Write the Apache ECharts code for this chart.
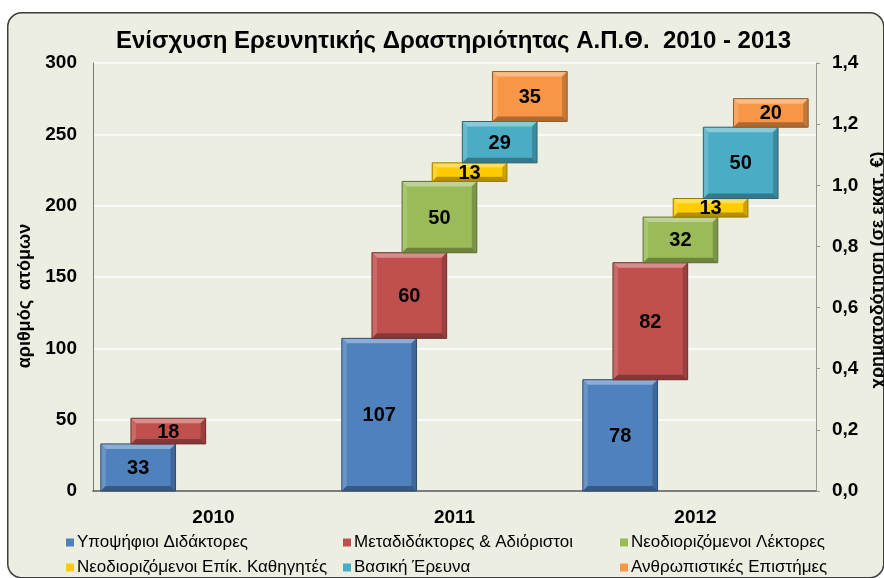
<!DOCTYPE html>
<html><head><meta charset="utf-8">
<script src="https://cdn.jsdelivr.net/npm/echarts@6/dist/echarts.min.js"></script>
<style>html,body{margin:0;padding:0;background:#fff;}#c{width:884px;height:578px;}</style>
</head><body><div id="c"></div>
<script>
const categories = ['2010', '2011', '2012'];
const seriesNames = ['Υποψήφιοι Διδάκτορες', 'Μεταδιδάκτορες & Αδιόριστοι', 'Νεοδιοριζόμενοι Λέκτορες',
  'Νεοδιοριζόμενοι Επίκ. Καθηγητές', 'Βασική Έρευνα', 'Ανθρωπιστικές Επιστήμες'];
const phdCandidates = [33, 107, 78];
const postdocs = [18, 60, 82];
const newLecturers = [null, 50, 32];
const newAsstProfs = [null, 13, 13];
const basicResearch = [null, 29, 50];
const humanities = [null, 35, 20];
const leftTicks = [0, 50, 100, 150, 200, 250, 300];
const rightTicks = ['0,0', '0,2', '0,4', '0,6', '0,8', '1,0', '1,2', '1,4'];

const allValues = [phdCandidates, postdocs, newLecturers, newAsstProfs, basicResearch, humanities];
const colors = ['#4f81bd', '#c0504d', '#9bbb59', '#ffcc00', '#4bacc6', '#f79646'];

function shade(hex, f) {
  const n = parseInt(hex.slice(1), 16);
  let r = (n >> 16) & 255, g = (n >> 8) & 255, b = n & 255;
  if (f >= 0) { r += (255 - r) * f; g += (255 - g) * f; b += (255 - b) * f; }
  else { r *= (1 + f); g *= (1 + f); b *= (1 + f); }
  return 'rgb(' + Math.round(r) + ',' + Math.round(g) + ',' + Math.round(b) + ')';
}

// cumulative floating bars
const seriesData = allValues.map(() => []);
categories.forEach((c, ci) => {
  let acc = 0;
  allValues.forEach((arr, si) => {
    const v = arr[ci];
    if (v != null) {
      seriesData[si].push([ci, acc, acc + v, v]);
      acc += v;
    }
  });
});

function makeRender(si) {
  const base = colors[si];
  return function (params, api) {
    const cat = api.value(0), lo = api.value(1), hi = api.value(2), val = api.value(3);
    const band = api.size([1, 0])[0];
    const w = band * 0.31;
    const shift = band * 0.125;
    const cx = api.coord([cat, 0])[0] + (si - 2.5) * shift;
    const x0 = cx - w / 2, x1 = cx + w / 2;
    const yT = api.coord([cat, hi])[1], yB = api.coord([cat, lo])[1];
    const h = yB - yT;
    const b = Math.min(5, h / 4);
    return {
      type: 'group',
      children: [
        { type: 'rect', shape: { x: x0, y: yT, width: w, height: h }, style: { fill: base } },
        { type: 'polygon', shape: { points: [[x0, yT], [x1, yT], [x1 - b, yT + b], [x0 + b, yT + b]] }, style: { fill: shade(base, 0.35) } },
        { type: 'polygon', shape: { points: [[x0, yT], [x0 + b, yT + b], [x0 + b, yB - b], [x0, yB]] }, style: { fill: shade(base, 0.15) } },
        { type: 'polygon', shape: { points: [[x1, yT], [x1 - b, yT + b], [x1 - b, yB - b], [x1, yB]] }, style: { fill: shade(base, -0.2) } },
        { type: 'polygon', shape: { points: [[x0, yB], [x0 + b, yB - b], [x1 - b, yB - b], [x1, yB]] }, style: { fill: shade(base, -0.3) } },
        { type: 'rect', shape: { x: x0, y: yT, width: w, height: h }, style: { fill: 'none', stroke: shade(base, -0.4), lineWidth: 1 } },
        { type: 'text', style: { text: String(val), x: cx, y: (yT + yB) / 2 + 1, align: 'center', verticalAlign: 'middle',
          font: 'bold 20px "Liberation Sans", Arial, sans-serif', fill: '#000' } }
      ]
    };
  };
}

const series = seriesNames.map((name, si) => ({
  name: name,
  type: 'custom',
  renderItem: makeRender(si),
  itemStyle: { color: colors[si] },
  encode: { x: 0, y: [1, 2] },
  data: seriesData[si],
  z: 3
}));

const font = '"Liberation Sans", Arial, sans-serif';
const legendCommon = {
  orient: 'vertical', icon: 'rect', itemWidth: 8, itemHeight: 8, itemGap: 8, top: 529, height: 70,
  textStyle: { fontSize: 17, color: '#000', fontFamily: font, padding: [0, 0, 0, -2] }
};

const chart = echarts.init(document.getElementById('c'));
chart.setOption({
  backgroundColor: '#fff',
  animation: false,
  graphic: [{
    type: 'rect', left: 7, top: 12, z: -10, silent: true,
    shape: { width: 876, height: 565, r: 14 },
    style: { fill: '#eceee2', stroke: '#3c3c3c', lineWidth: 1.5 }
  }],
  title: {
    text: 'Ενίσχυση Ερευνητικής Δραστηριότητας Α.Π.Θ.  2010 - 2013',
    left: 111, top: 24,
    textStyle: { fontSize: 24, fontWeight: 'bold', color: '#000', fontFamily: font }
  },
  legend: [
    Object.assign({ left: 61, data: [seriesNames[0], seriesNames[3]] }, legendCommon),
    Object.assign({ left: 338, data: [seriesNames[1], seriesNames[4]] }, legendCommon),
    Object.assign({ left: 615, data: [seriesNames[2], seriesNames[5]] }, legendCommon)
  ],
  grid: { left: 93, right: 68, top: 63, bottom: 87, outerBoundsMode: 'none', containLabel: false },
  xAxis: {
    type: 'category', data: categories,
    axisLine: { lineStyle: { color: '#555', width: 1.5 } },
    axisTick: { show: false },
    axisLabel: { fontSize: 19, fontWeight: 'bold', color: '#000', fontFamily: font, margin: 17 }
  },
  yAxis: [{
    type: 'value', min: 0, max: 300, interval: 50,
    name: 'αριθμός  ατόμων', nameLocation: 'middle', nameRotate: 90, nameGap: 56,
    nameTextStyle: { fontSize: 18, fontWeight: 'bold', color: '#000', fontFamily: font, padding: [0, 38, 0, 0] },
    axisLine: { show: true, lineStyle: { color: '#777' } },
    axisTick: { show: false },
    axisLabel: { fontSize: 19, fontWeight: 'bold', color: '#000', fontFamily: font, margin: 16,
      formatter: (v) => leftTicks.includes(v) ? String(v) : '' },
    splitLine: { lineStyle: { color: '#ffffff', width: 1.5 } }
  }, {
    type: 'value', min: 0, max: 1.4, interval: 0.2, position: 'right',
    name: 'χρηματοδότηση (σε εκατ. €)', nameLocation: 'middle', nameRotate: 90, nameGap: 49,
    nameTextStyle: { fontSize: 18, fontWeight: 'bold', color: '#000', fontFamily: font, padding: [0, 0, 0, 14] },
    axisLine: { show: true, lineStyle: { color: '#999' } },
    axisTick: { show: true, length: 4, lineStyle: { color: '#999' } },
    axisLabel: { fontSize: 19, fontWeight: 'bold', color: '#000', fontFamily: font, margin: 16,
      formatter: (v) => rightTicks[Math.round(v / 0.2)] || '' },
    splitLine: { show: false }
  }],
  series: series
});
</script></body></html>
